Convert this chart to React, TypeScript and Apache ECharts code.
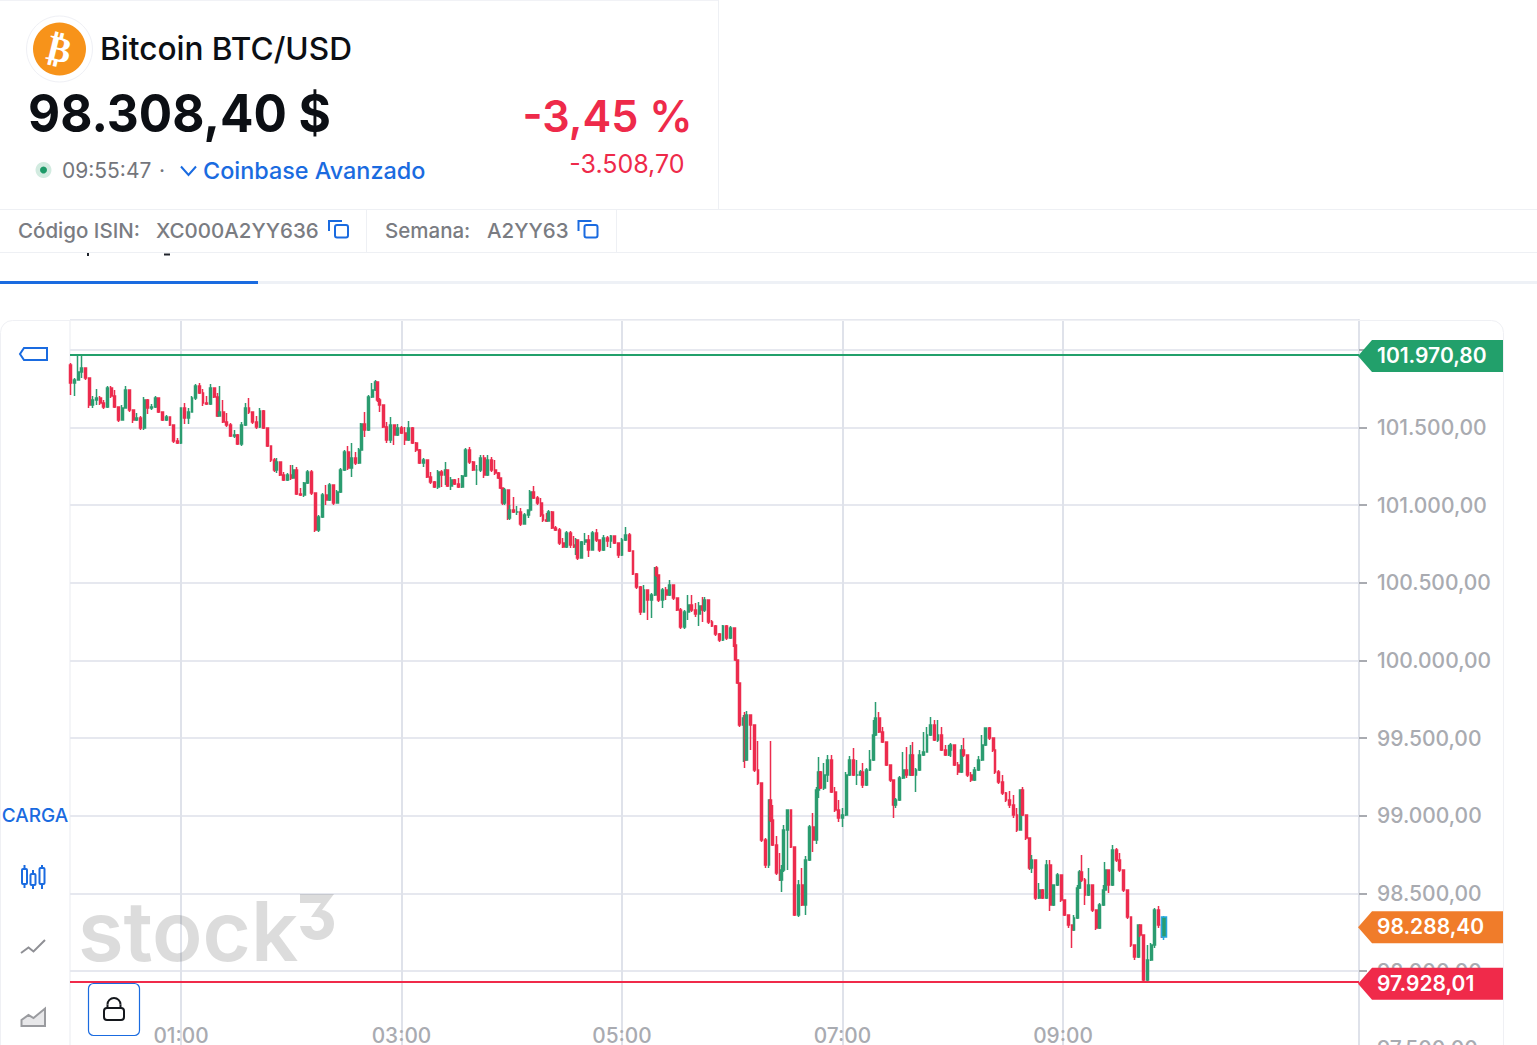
import React, { useEffect, useRef } from "react";
import * as echarts from "echarts";

// Each row: [minute since 00:00, close, high, low]. The open of a candle is the previous close.
type Row = [number, number, number, number];
const firstOpen = 101903;
const session00: Row[] = [
[0,101786,101915,101709],[2,101806,101819,101703],[4,101857,101967,101806],[6,101883,101967,101819],[8,101819,101870,101806],[10,101645,101819,101625],[12,101677,101703,101625],[14,101690,101748,101645],[16,101658,101703,101645],[18,101632,101677,101619],[20,101754,101767,101625],[22,101703,101767,101690],[24,101632,101741,101625],[26,101548,101632,101535],[28,101625,101645,101548],[30,101741,101767,101625],[32,101613,101722,101600],[34,101548,101613,101529],[36,101561,101593,101542],[38,101497,101574,101484],[40,101677,101696,101484],[42,101625,101683,101587],[44,101632,101651,101613],[46,101690,101703,101625],[48,101600,101690,101593],[50,101548,101600,101542],[52,101568,101580,101542],[54,101516,101561,101510],[56,101413,101516,101400],[58,101400,101432,101394],
[60,101625,101625,101394],[62,101561,101658,101522],[64,101600,101625,101522],[66,101690,101703,101600],[68,101767,101780,101677],[70,101722,101786,101716],[72,101658,101748,101638],[74,101651,101703,101645],[76,101754,101780,101645],[78,101696,101741,101690],[80,101574,101722,101568],[81,101600,101767,101587],[83,101535,101677,101529],[85,101516,101593,101503],[87,101445,101529,101439],[89,101452,101484,101432],[91,101394,101458,101387],[93,101516,101535,101381],[95,101625,101658,101510],[97,101600,101690,101587],[99,101535,101600,101522],[101,101503,101574,101490],[103,101606,101625,101497],[105,101497,101613,101490],[107,101381,101497,101374],[109,101291,101381,101278],[111,101226,101303,101213],[112,101278,101303,101207],[114,101194,101278,101188],[116,101162,101213,101155],[118,101194,101207,101155],
];
const session02: Row[] = [
[120,101175,101258,101162],[121,101226,101258,101175],[123,101072,101245,101065],[125,101065,101110,101059],[127,101142,101149,101052],[129,101213,101226,101136],[131,101078,101226,101065],[133,100840,101059,100827],[135,100924,100936,100827],[137,101065,101078,100917],[139,101033,101130,101001],[141,101130,101142,101027],[143,101014,101123,101001],[145,101085,101097,101014],[147,101226,101239,101078],[149,101342,101355,101220],[151,101239,101381,101226],[153,101303,101400,101181],[155,101271,101342,101258],[157,101355,101368,101265],[158,101522,101529,101349],[160,101484,101600,101439],[162,101696,101709,101477],[164,101741,101786,101690],[166,101793,101806,101735],[167,101677,101774,101664],[168,101645,101690,101600],[170,101503,101645,101497],[172,101419,101535,101400],[174,101516,101568,101400],[176,101452,101484,101387],[178,101497,101522,101445],
[180,101464,101510,101458],[182,101419,101503,101387],[184,101497,101542,101413],[186,101400,101503,101394],[188,101355,101407,101342],[190,101271,101361,101265],[192,101291,101303,101245],[194,101181,101291,101175],[196,101149,101213,101136],[198,101117,101155,101110],[200,101213,101226,101104],[202,101194,101226,101117],[204,101226,101278,101130],[205,101123,101226,101117],[207,101162,101181,101097],[209,101136,101168,101130],[211,101117,101175,101110],[213,101188,101194,101110],[215,101355,101368,101181],[217,101278,101374,101265],[219,101226,101284,101220],[221,101226,101258,101130],[223,101303,101323,101213],[225,101194,101323,101175],[227,101291,101323,101188],[229,101226,101310,101213],[231,101207,101291,101194],[233,101175,101213,101168],[234,101110,101175,101104],[235,101014,101097,101001],[236,101097,101110,101001],[238,100917,101097,100904],
];
const session04: Row[] = [
[239,100969,101001,100904],[241,100956,101052,100949],[243,100956,100994,100936],[245,100878,100981,100866],[247,100936,100949,100885],[249,100969,100969,100917],[250,101085,101097,100956],[252,101046,101123,101039],[254,101014,101059,101001],[256,100936,101046,100923],[257,100904,100969,100891],[259,100898,100949,100891],[260,100956,100969,100898],[262,100853,100962,100846],[264,100840,100866,100833],[266,100756,100853,100743],[268,100730,100788,100724],[270,100820,100833,100724],[272,100743,100833,100724],[274,100730,100801,100724],[275,100775,100788,100679],[276,100659,100775,100647],[278,100763,100769,100659],[280,100775,100820,100743],[282,100711,100808,100666],[284,100820,100833,100730],[286,100775,100846,100763],[288,100711,100775,100698],[290,100788,100808,100705],[292,100769,100801,100730],[294,100801,100808,100724],[296,100756,100788,100750],[298,100679,100756,100659],
[300,100775,100788,100672],[302,100808,100859,100769],[304,100705,100820,100698],[306,100556,100705,100550],[308,100473,100563,100460],[310,100312,100479,100292],[312,100453,100486,100312],[314,100389,100453,100260],[316,100421,100434,100273],[318,100595,100602,100415],[319,100550,100608,100537],[320,100389,100550,100376],[322,100453,100466,100337],[324,100421,100473,100389],[326,100486,100518,100415],[328,100402,100486,100389],[330,100325,100402,100318],[332,100215,100337,100202],[334,100312,100325,100202],[336,100357,100421,100260],[338,100325,100421,100312],[340,100299,100370,100280],[342,100350,100376,100222],[344,100325,100408,100247],[345,100389,100408,100312],[347,100247,100389,100235],[349,100222,100260,100215],[351,100170,100228,100157],[353,100131,100176,100118],[355,100222,100228,100125],[357,100144,100228,100131],[359,100209,100222,100138],[361,100099,100209,100086],[362,100003,100099,99997],[363,99855,100003,99848],[364,99584,99855,99571],
];
const session06: Row[] = [
[366,99629,99648,99346],[367,99359,99668,99307],[368,99648,99674,99455],[370,99584,99597,99423],[372,99294,99584,99281],[374,99210,99481,99198],[376,98843,99210,98831],[378,98682,98856,98663],[380,99101,99101,98663],[381,98972,99481,98959],[382,98811,99069,98805],[384,98631,98869,98618],[386,98586,98760,98579],[387,98650,98682,98509],[388,98908,98940,98637],[390,99037,99037,98650],[392,98798,99037,98792],[394,98360,98798,98354],[396,98554,98586,98347],[398,98425,98663,98418],[400,98715,98740,98360],[402,98927,98940,98708],[404,98843,99017,98766],[406,99165,99185,98818],[407,99281,99378,99114],[408,99178,99288,99172],[410,99262,99339,99165],[412,99359,99391,99217],[414,99153,99391,99146],[416,99037,99185,99024],[418,98985,99101,98959],
[420,99004,99049,98927],[422,99262,99281,98998],[424,99359,99384,99256],[426,99262,99436,99256],[428,99262,99359,99198],[430,99281,99294,99256],[431,99198,99339,99178],[433,99294,99307,99191],[435,99359,99423,99288],[437,99520,99616,99352],[438,99629,99732,99513],[440,99539,99668,99532],[442,99475,99571,99468],[444,99326,99475,99320],[446,99230,99326,99217],[448,99069,99230,98985],[449,99101,99114,99049],[451,99243,99256,99095],[453,99294,99410,99236],[455,99262,99442,99243],[457,99391,99455,99256],[458,99262,99475,99256],[460,99294,99307,99153],[462,99391,99423,99288],[464,99410,99539,99384],[466,99520,99571,99423],[468,99584,99636,99513],[470,99487,99616,99481],[472,99520,99616,99475],[474,99423,99571,99417],[476,99391,99455,99384],[478,99423,99455,99384],
];
const session08: Row[] = [
[479,99455,99468,99378],[481,99326,99436,99320],[483,99281,99346,99262],[485,99423,99455,99275],[486,99391,99500,99378],[488,99262,99391,99249],[490,99230,99281,99217],[492,99294,99314,99223],[494,99359,99384,99288],[496,99455,99520,99352],[498,99565,99565,99449],[500,99500,99571,99487],[502,99423,99500,99410],[503,99281,99423,99268],[505,99217,99294,99204],[507,99146,99262,99133],[509,99101,99153,99088],[511,99069,99159,99049],[513,99004,99133,98985],[515,98908,99049,98895],[517,99165,99165,98908],[518,99004,99185,98998],[520,98856,99004,98843],[522,98663,98856,98650],[523,98715,98747,98631],[525,98470,98715,98457],[527,98521,98566,98463],[529,98470,98528,98463],[531,98682,98715,98463],[533,98425,98715,98386],[535,98554,98554,98418],[537,98618,98631,98547],[539,98457,98618,98444],
[541,98360,98457,98354],[543,98296,98360,98277],[545,98264,98296,98148],[546,98341,98360,98257],[548,98534,98554,98335],[549,98637,98650,98528],[550,98586,98747,98573],[552,98489,98599,98425],[554,98554,98663,98483],[556,98393,98554,98380],[558,98277,98393,98264],[560,98425,98438,98270],[562,98521,98554,98418],[563,98650,98702,98515],[565,98554,98650,98502],[567,98779,98811,98547],[569,98715,98792,98702],[571,98650,98760,98637],[573,98521,98650,98508],[575,98347,98521,98335],[577,98167,98347,98154],[579,98090,98167,98071],[581,98296,98296,98084],[582,98232,98296,98219],[584,97942,98232,97928],[586,98071,98167,97928],[588,98167,98180,98064],[590,98393,98406,98148],[592,98296,98418,98277],[594,98219,98296,98212],[595,98347,98354,98199],
];
const timeTicks = [60, 180, 300, 420, 540];
const timeLabels = ["01:00", "03:00", "05:00", "07:00", "09:00"];
const highLine = 101970.8;
const lowLine = 97928.01;
const lastPrice = 98288.4;
const flagValues: [number, string, string, number][] = [
  [highLine, "101.970,80", "#22a06b", 1.6],
  [lastPrice, "98.288,40", "#f07c2a", 1],
  [lowLine, "97.928,01", "#f02a4a", 1.5],
];

const GREEN = "#2b9c70";
const RED = "#ec2c4e";
const BLUE = "#1a6be0";
const INTER = "Inter, 'Noto Sans', sans-serif";

echarts.graphic.registerShape(
  "stock3Mark",
  echarts.graphic.extendPath(
    "M0 0H34L22 16C30 17 34 23 34 30C34 40 26 46 17 46C8 46 2 41 0 32H11C12 35 14 37 17 37C21 37 24 34 24 30C24 26 21 23 17 23H11L21 9H0Z",
    {}
  )
);

const T = (text: string, x: number, y: number, font: string, fill: string, align = "left", z = 60, scaleX = 1) => ({
  type: "text",
  z,
  x,
  y,
  scaleX,
  style: { text, x: 0, y: 0, font, fill, align, verticalAlign: "middle" },
});
const L = (x1: number, y1: number, x2: number, y2: number, stroke: string, lineWidth = 1, z = 60) => ({
  type: "line",
  z,
  shape: { x1, y1, x2, y2 },
  style: { stroke, lineWidth },
});
const P = (points: number[][], stroke: string, lineWidth = 2, z = 60) => ({
  type: "polyline",
  z,
  shape: { points },
  style: { stroke, lineWidth, fill: "none" },
});
const R = (x: number, y: number, width: number, height: number, r: number, stroke: string, fill = "none", lineWidth = 2, z = 60) => ({
  type: "rect",
  z,
  shape: { x, y, width, height, r },
  style: { stroke, fill, lineWidth },
});
const copyIcon = (dx: number) => [
  P([[329 + dx, 231], [329 + dx, 221], [342 + dx, 221]], BLUE, 2),
  R(335 + dx, 225, 13, 12.5, 2, BLUE),
];
const candleIcon = (x: number, y1: number, y2: number, b1: number, b2: number) => [
  L(x, y1, x, y2, BLUE, 2),
  R(x - 2.5, b1, 5, b2 - b1, 1, BLUE, "#fff", 2),
];

function staticGraphics() {
  return [
    L(0, 0.5, 718, 0.5, "#f1f2f6"),
    L(718.5, 0, 718.5, 209, "#eef0f4"),
    L(0, 209.5, 1537, 209.5, "#eef0f4"),
    L(366.5, 209, 366.5, 252, "#eef0f4"),
    L(616.5, 209, 616.5, 252, "#eef0f4"),
    L(0, 252.5, 1537, 252.5, "#eef0f4"),
    L(88, 253, 88, 256, "#20242c", 2),
    L(164, 254.5, 170, 254.5, "#20242c", 2),
    L(0, 282.5, 1537, 282.5, "#eef1f6", 3),
    L(0, 282.5, 258, 282.5, BLUE, 3),
    { type: "circle", z: 60, shape: { cx: 59.5, cy: 49, r: 33 }, style: { fill: "#fff", stroke: "#eff0f5", lineWidth: 1 } },
    { type: "circle", z: 61, shape: { cx: 59.5, cy: 49, r: 26.5 }, style: { fill: "#f7931a" } },
    { type: "text", z: 62, x: 59.5, y: 49, rotation: -0.24, style: { text: "₿", x: 0, y: 0, font: "bold 36px 'DejaVu Sans'", fill: "#fff", align: "center", verticalAlign: "middle" } },
    T("Bitcoin BTC/USD", 100, 48, `500 31.6px ${INTER}`, "#0c0f14"),
    T("98.308,40 $", 28, 113, `700 52px ${INTER}`, "#0c0f14", "left", 60, 0.953),
    T("-3,45 %", 692.5, 116, `600 44px ${INTER}`, "#ee2a4a", "right", 60, 0.98),
    T("-3.508,70", 684.5, 164, `400 25px ${INTER}`, "#ee2a4a", "right"),
    { type: "circle", z: 60, shape: { cx: 43.5, cy: 170, r: 8 }, style: { fill: "#d2ebe0" } },
    { type: "circle", z: 61, shape: { cx: 43.5, cy: 170, r: 3.5 }, style: { fill: "#1d9a68" } },
    T("09:55:47", 62, 170, `400 21px ${INTER}`, "#74767c"),
    T("·", 162, 170, `400 21px ${INTER}`, "#74767c", "center"),
    P([[181, 166.5], [188.5, 175], [196, 166.5]], BLUE, 2),
    T("Coinbase Avanzado", 203, 170, `500 23.4px ${INTER}`, BLUE),
    T("Código ISIN:", 18, 230, `500 20.5px ${INTER}`, "#7a7c82"),
    T("XC000A2YY636", 156, 230, `500 20.5px ${INTER}`, "#7a7c82"),
    ...copyIcon(0),
    T("Semana:", 385, 230, `500 20.5px ${INTER}`, "#7a7c82"),
    T("A2YY63", 487, 230, `500 20.5px ${INTER}`, "#7a7c82"),
    ...copyIcon(249.5),
    R(0.5, 320.5, 1503, 900, 12, "#eff0f4", "none", 1, 1),
    { type: "polygon", z: 60, shape: { points: [[24, 348], [47, 348], [47, 360], [24, 360], [20, 354]] }, style: { stroke: BLUE, lineWidth: 2, fill: "none" } },
    T("CARGA", 35, 815, `500 19px ${INTER}`, BLUE, "center"),
    ...candleIcon(24.5, 865, 888, 869, 884),
    ...candleIcon(33, 870, 889, 874, 885),
    ...candleIcon(42, 865, 889, 868, 884),
    P([[21, 953], [28.5, 947.5], [33.5, 951.5], [45, 940]], "#8f9095", 2),
    { type: "polygon", z: 60, shape: { points: [[21.5, 1026], [21.5, 1020], [28.5, 1015], [33.5, 1018], [45, 1008.5], [45, 1026]] }, style: { stroke: "#9a9b9f", lineWidth: 2, fill: "#e8e8ea" } },
    T("stock", 78, 931, `600 83px ${INTER}`, "rgba(60,60,60,0.18)", "left", 2, 1),
    { type: "stock3Mark", z: 2, x: 300, y: 894, style: { fill: "rgba(60,60,60,0.18)" } },
    R(88.5, 983.5, 51, 52, 5, BLUE, "#fff", 1.2, 70),
    R(104, 1008, 20, 12, 3, "#14171c", "none", 2, 71),
    { type: "arc", z: 71, shape: { cx: 114, cy: 1004.5, r: 6.5, startAngle: Math.PI, endAngle: Math.PI * 2, clockwise: true }, style: { stroke: "#14171c", lineWidth: 2, fill: "none" } },
    L(107.5, 1004.5, 107.5, 1008, "#14171c", 2, 71),
    L(120.5, 1004.5, 120.5, 1008, "#14171c", 2, 71),
  ];
}

export default function App() {
  const ref = useRef<HTMLDivElement>(null);
  useEffect(() => {
    const chart = echarts.init(ref.current!, undefined, { renderer: "svg" });
    const rows = [...session00, ...session02, ...session04, ...session06, ...session08];
    const candles = rows.map((r, i) => [r[0], i ? rows[i - 1][1] : firstOpen, r[1], r[3], r[2]]);
    chart.setOption({
      animation: false,
      backgroundColor: "#fff",
      textStyle: { fontFamily: INTER },
      grid: { left: 70, right: 178, top: 320, height: 806.3, show: true, borderWidth: 1, borderColor: "#e9ebf0" },
      xAxis: {
        type: "value",
        min: -0.4,
        max: 701.1,
        offset: -103,
        axisLine: { show: false, onZero: false },
        axisTick: { show: false, customValues: timeTicks },
        axisLabel: {
          customValues: timeTicks,
          margin: 2,
          color: "#a9abb1",
          fontSize: 20.8,
          fontWeight: 500,
          fontFamily: INTER,
          formatter: (v: number) => timeLabels[timeTicks.indexOf(v)] ?? "",
        },
        splitLine: { show: true, lineStyle: { color: "#dfe2ea", width: 2 } },
      },
      yAxis: {
        type: "value",
        position: "right",
        min: 97000,
        max: 102192,
        interval: 500,
        axisLine: { show: true, onZero: false, lineStyle: { color: "#dfe2ea", width: 2 } },
        axisTick: { show: true, length: 8, lineStyle: { color: "#a9abb1", width: 2 } },
        axisLabel: {
          showMaxLabel: false,
          margin: 18,
          color: "#a9abb1",
          fontSize: 21,
          fontWeight: 500,
          fontFamily: INTER,
          formatter: (v: number) => v.toLocaleString("de-DE", { minimumFractionDigits: 2, maximumFractionDigits: 2 }),
        },
        splitLine: { show: true, lineStyle: { color: "#e6e8ef", width: 2 } },
      },
      series: [
        {
          type: "candlestick",
          barWidth: 2.4,
          data: candles.slice(0, -1),
          itemStyle: { color: GREEN, color0: RED, borderColor: GREEN, borderColor0: RED, borderWidth: 1.5 },
          markLine: {
            silent: true,
            symbol: "none",
            label: { show: false },
            data: [
              { yAxis: highLine, lineStyle: { color: "#22a06b", width: 2, type: "solid" } },
              { yAxis: lowLine, lineStyle: { color: "#f02a4a", width: 2, type: "solid" } },
            ],
          },
        },
        {
          type: "candlestick",
          barWidth: 5,
          data: candles.slice(-1),
          itemStyle: { color: GREEN, color0: GREEN, borderColor: "#27a8e0", borderColor0: "#27a8e0", borderWidth: 1.5 },
        },
      ],
    });
    const flags: any[] = [];
    for (const [value, label, color, nudge] of flagValues) {
      const y = (chart.convertToPixel({ yAxisIndex: 0 }, value) as number) + nudge;
      flags.push({
        type: "polygon",
        z: 80,
        shape: { points: [[1358, y], [1372, y - 16], [1503, y - 16], [1503, y + 16], [1372, y + 16]] },
        style: { fill: color },
      });
      flags.push({ ...T(label, 1377, y - 0.5, `600 21px ${INTER}`, "#fff", "left", 81) });
    }
    chart.setOption({ graphic: { elements: [...staticGraphics(), ...flags] } });
    return () => chart.dispose();
  }, []);
  return (
    <div style={{ position: "fixed", left: 0, top: 0, width: 1537, height: 1045, overflow: "hidden", background: "#fff" }}>
      <div ref={ref} style={{ width: 1537, height: 1200 }} />
    </div>
  );
}
